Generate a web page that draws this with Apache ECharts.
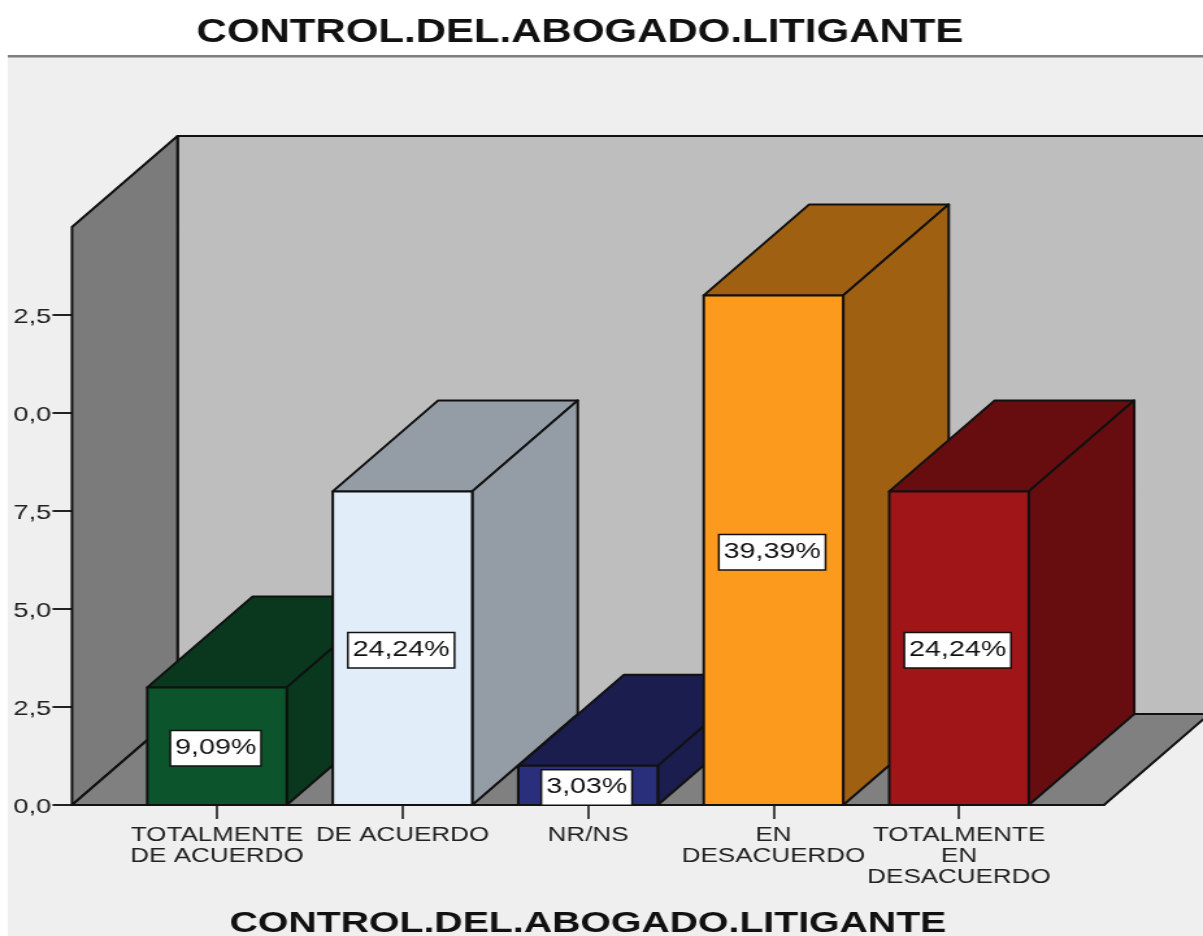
<!DOCTYPE html>
<html>
<head>
<meta charset="utf-8">
<title>CONTROL.DEL.ABOGADO.LITIGANTE</title>
<script src="https://cdn.jsdelivr.net/npm/echarts@6/dist/echarts.min.js"></script>
<style>
  html, body { margin: 0; padding: 0; background: #fff; overflow: hidden; }
  /* the source picture is a graph stretched sideways, so the chart is drawn narrow and widened */
  #myChart { width: 926px; height: 936px; transform: scaleX(1.2991); transform-origin: 0 0; }
</style>
</head>
<body>
<div id="myChart"></div>
<script>
const categories = ['TOTALMENTE\nDE ACUERDO', 'DE ACUERDO', 'NR/NS', 'EN\nDESACUERDO', 'TOTALMENTE\nEN\nDESACUERDO']
const counts = [3, 8, 1, 13, 8]
const percentLabels = ['9,09%', '24,24%', '3,03%', '39,39%', '24,24%']
const yTickValues = [0, 2.5, 5, 7.5, 10, 12.5]
const yTickLabels = ['0,0', '2,5', '5,0', '7,5', '0,0', '2,5']
const xTickValues = [0, 1, 2, 3, 4]
const frontColors = ['#0c552c', '#e2edfa', '#2a2f7b', '#fb9a1d', '#a01518']
const shadeColors = ['#09381f', '#949ca6', '#1b1d4e', '#9f6011', '#680d0f']

const S = 1203 / 926
const depthX = 105.5 / S
const depthY = -91
const xMin = -0.7817
const xMax = 4.7817
const yMax = 14.745
const barHalf = 0.376
const lineStyle = { stroke: '#111', lineWidth: 2, lineJoin: 'round' }

function poly(points, fill) {
  return { type: 'polygon', shape: { points }, style: { fill, ...lineStyle } }
}

function renderBackdrop(params, api) {
  const fl = api.coord([xMin, 0])
  const fr = api.coord([xMax, 0])
  const tl = api.coord([xMin, yMax])
  const back = p => [p[0] + depthX, p[1] + depthY]
  return {
    type: 'group',
    children: [
      poly([back(tl), back([fr[0], tl[1]]), back(fr), back(fl)], '#bebebe'),
      poly([tl, back(tl), back(fl), fl], '#7b7b7b'),
      poly([fl, back(fl), back(fr), fr], '#808080')
    ]
  }
}

function renderBar(params, api) {
  const i = params.dataIndex
  const x = api.value(0)
  const v = api.value(1)
  const bl = api.coord([x - barHalf, 0])
  const br = api.coord([x + barHalf, 0])
  const tl = api.coord([x - barHalf, v])
  const tr = api.coord([x + barHalf, v])
  const back = p => [p[0] + depthX, p[1] + depthY]
  return {
    type: 'group',
    children: [
      poly([tl, back(tl), back(tr), tr], shadeColors[i]),
      poly([tr, back(tr), back(br), br], shadeColors[i]),
      poly([tl, tr, br, bl], frontColors[i]),
      {
        type: 'text',
        style: {
          x: (tl[0] + tr[0]) / 2 - 1,
          y: (tl[1] + bl[1]) / 2 + 2,
          text: percentLabels[i],
          align: 'center',
          verticalAlign: 'middle',
          font: '22px "Liberation Sans"',
          fill: '#111',
          backgroundColor: '#fff',
          borderColor: '#111',
          borderWidth: 1.5,
          padding: [6, 3, 6, 3]
        }
      }
    ]
  }
}

const option = {
  animation: false,
  backgroundColor: '#fff',
  graphic: [
    { type: 'rect', silent: true, z: -1, shape: { x: 6, y: 56, width: 920, height: 880 }, style: { fill: '#efefef' } },
    { type: 'rect', silent: true, z: -1, shape: { x: 6, y: 55, width: 920, height: 2.5 }, style: { fill: '#7d7d7d' } }
  ],
  title: {
    text: 'CONTROL.DEL.ABOGADO.LITIGANTE',
    left: 573.5 / S,
    top: 12,
    textAlign: 'center',
    textStyle: { fontFamily: 'Liberation Sans', fontWeight: 'bold', fontSize: 32.3, color: '#111' }
  },
  grid: { left: 72 / S, right: 926 - 1104 / S, top: 227, bottom: 936 - 805, outerBoundsMode: 'none' },
  xAxis: {
    type: 'value',
    min: xMin,
    max: xMax,
    name: 'CONTROL.DEL.ABOGADO.LITIGANTE',
    nameLocation: 'middle',
    nameGap: 104,
    nameTextStyle: { fontFamily: 'Liberation Sans', fontWeight: 'bold', fontSize: 30.2, color: '#111' },
    splitLine: { show: false },
    axisLine: { show: true, lineStyle: { color: '#111', width: 2 } },
    axisTick: { show: true, customValues: xTickValues, length: 14, lineStyle: { color: '#444', width: 2 } },
    axisLabel: {
      customValues: xTickValues,
      formatter: v => categories[v],
      fontFamily: 'Liberation Sans',
      fontSize: 20,
      lineHeight: 21,
      color: '#222',
      margin: 20,
      hideOverlap: false
    }
  },
  yAxis: {
    type: 'value',
    min: 0,
    max: yMax,
    splitLine: { show: false },
    axisLine: { show: true, onZero: false, lineStyle: { color: '#111', width: 2 } },
    axisTick: { show: true, customValues: yTickValues, length: 15, lineStyle: { color: '#222', width: 2 } },
    axisLabel: {
      customValues: yTickValues,
      formatter: v => '{t|' + yTickLabels[yTickValues.indexOf(v)] + '}',
      rich: { t: { fontFamily: 'Liberation Sans', fontSize: 21, color: '#222', padding: [4, 0, 0, 0] } },
      margin: 16
    }
  },
  series: [
    { type: 'custom', silent: true, z: 1, renderItem: renderBackdrop, data: [[0, 0]] },
    { type: 'custom', silent: true, z: 2, renderItem: renderBar, data: counts.map((c, i) => [i, c]) }
  ]
}

const myChart = echarts.init(document.getElementById('myChart'))
myChart.setOption(option)
</script>
</body>
</html>
